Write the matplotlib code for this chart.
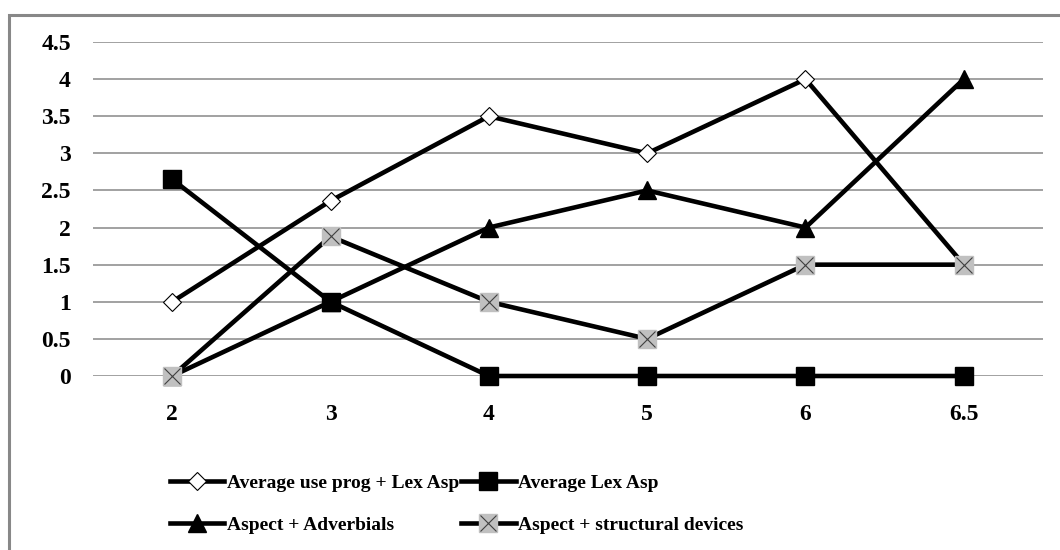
import matplotlib
matplotlib.use('Agg')
import matplotlib.pyplot as plt
from matplotlib.patches import Rectangle
from matplotlib.lines import Line2D
from matplotlib.legend_handler import HandlerTuple

# categories on the x axis (spaced evenly, like a category axis)
categories = ['2', '3', '4', '5', '6', '6.5']

# series values
prog_lex = [1.0, 2.36, 3.5, 3.0, 4.0, 1.5]
lex_asp = [2.65, 1.0, 0.0, 0.0, 0.0, 0.0]
adverbials = [0.0, 1.0, 2.0, 2.5, 2.0, 4.0]
structural = [0.0, 1.88, 1.0, 0.5, 1.5, 1.5]

labels = ['Average use prog + Lex Asp', 'Average Lex Asp',
          'Aspect + Adverbials', 'Aspect + structural devices']

plt.rcParams['font.family'] = ['Liberation Serif', 'DejaVu Serif']
plt.rcParams['font.weight'] = 'bold'

fig = plt.figure(figsize=(10.6, 5.5), dpi=100)
ax = fig.add_axes([93/1060, 1-376/550, 950/1060, 334/550])

x = list(range(len(categories)))
lw = 3.3
l1, = ax.plot(x, prog_lex, '-', color='black', lw=lw, marker='D', ms=9,
              mfc='white', mec='black', mew=0.8, zorder=3, clip_on=False)
l2, = ax.plot(x, lex_asp, '-', color='black', lw=lw, marker='s', ms=13,
              mfc='black', mec='black', zorder=4, clip_on=False)
l3, = ax.plot(x, adverbials, '-', color='black', lw=lw, marker='^', ms=13,
              mfc='black', mec='black', zorder=5, clip_on=False)
l4, = ax.plot(x, structural, '-', color='black', lw=lw, marker='s', ms=13,
              mfc='#c0c0c0', mec='#c0c0c0', zorder=6, clip_on=False)
ax.plot(x, structural, ls='none', marker='x', ms=12, mew=0.8,
        color='#404040', zorder=7, clip_on=False)

ax.set_xlim(-0.5, len(categories) - 0.5)
ax.set_ylim(0, 4.5)
ax.set_yticks([i * 0.5 for i in range(10)])
ax.set_yticklabels(['0', '0.5', '1', '1.5', '2', '2.5', '3', '3.5', '4', '4.5'])
ax.set_xticks(x)
ax.set_xticklabels(categories)
ax.tick_params(length=0, labelsize=17)
ax.tick_params(axis='y', pad=16)
ax.tick_params(axis='x', pad=20)
ax.grid(axis='y', color='#888888', lw=1.1)
ax.set_axisbelow(True)
for s in ax.spines.values():
    s.set_visible(False)

# legend in two rows under the plot (matplotlib fills columns first)
hl4 = (Line2D([], [], color='black', lw=lw, marker='s', ms=13,
              mfc='#c0c0c0', mec='#c0c0c0'),
       Line2D([], [], ls='none', marker='x', ms=12, mew=0.8, color='#404040'))
handles = [l1, l3, l2, hl4]
order = [labels[0], labels[2], labels[1], labels[3]]
leg = fig.legend(handles, order, ncol=2, loc='upper left',
                 bbox_to_anchor=(152/1060, 1-457/550), frameon=False,
                 fontsize=14, handlelength=2.8, handletextpad=0.15,
                 columnspacing=0.1, labelspacing=1.25,
                 handler_map={tuple: HandlerTuple(ndivide=1)})

# outer chart border
fig.patches.append(Rectangle((9/1060, -0.02), 1.05, 1-15/550 + 0.02,
                             transform=fig.transFigure, fill=False,
                             ec='#888888', lw=2.2))

fig.savefig('out.png', dpi=100)
